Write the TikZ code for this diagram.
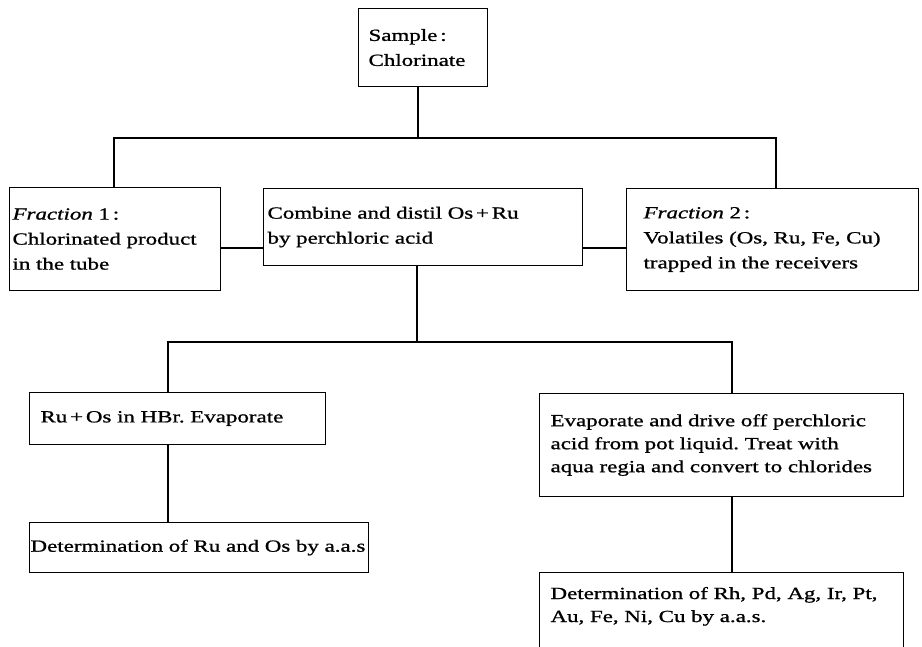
\documentclass[tikz,border=0pt]{standalone}
\usepackage{fontspec}
\setmainfont{Liberation Serif}[FakeStretch=1.35, FakeBold=1]
\usepackage{tikz}
\usetikzlibrary{positioning, calc}
\frenchspacing

\begin{document}
\begin{tikzpicture}[
    x=1pt, y=-1pt,
    box/.style={draw, line width=1.1pt, anchor=north west, align=left, inner ysep=0pt,
        font=\fontsize{17}{25}\selectfont},
    link/.style={line width=1.1pt}
]
\useasboundingbox (0,0) rectangle (922,646);

% Top level
\node[box, inner xsep=10pt, text width=109pt, minimum height=78pt] (sample) at (358,8) {Sample\,:\\Chlorinate};

% Fractions and distillation
\node[box, inner xsep=3pt, text width=205pt, minimum height=103pt] (frac1) at (9,187)
    {\textit{Fraction} 1\,:\\Chlorinated product\\in the tube};
\node[box, inner xsep=4pt, text width=311pt, minimum height=77pt] (distil) at (263,188)
    {Combine and distil Os\,+\,Ru\\by perchloric acid};
\node[box, inner xsep=17pt, text width=258pt, minimum height=102pt] (frac2) at (626,188)
    {\textit{Fraction} 2\,:\\Volatiles (Os, Ru, Fe, Cu)\\trapped in the receivers};

% Left branch
\node[box, inner xsep=11pt, text width=274pt, minimum height=52pt] (ruos) at (29,392)
    {Ru\,+\,Os in HBr. Evaporate};
\node[box, inner xsep=1pt, text width=337pt, minimum height=50pt] (detruos) at (29,522)
    {Determination of Ru and Os by a.a.s};

% Right branch
\node[box, inner xsep=11pt, text width=342pt, minimum height=103pt,
    font=\fontsize{17}{23}\selectfont] (evap) at (539,393)
    {Evaporate and drive off perchloric\\acid from pot liquid. Treat with\\aqua regia and convert to chlorides};
\node[box, inner xsep=11pt, text width=342pt, inner ysep=14.5pt, text depth=60pt,
    font=\fontsize{17}{23}\selectfont] (detrest) at (539,572)
    {Determination of Rh, Pd, Ag, Ir, Pt,\\Au, Fe, Ni, Cu by a.a.s.};

% Junction points
\coordinate (j1) at (418,138);
\coordinate (j1l) at (114,138);
\coordinate (j1r) at (776,138);
\coordinate (h1) at (0,248);
\coordinate (j2) at (417,342);
\coordinate (j2l) at (168,342);
\coordinate (j2r) at (732,342);

% Connectors
\draw[link] (sample.south -| j1) -- (j1);
\draw[link] (frac1.north -| j1l) -- (j1l) -- (j1r) -- (frac2.north -| j1r);
\draw[link] (frac1.east |- h1) -- (distil.west |- h1);
\draw[link] (distil.east |- h1) -- (frac2.west |- h1);

\draw[link] (distil.south -| j2) -- (j2);
\draw[link] (ruos.north -| j2l) -- (j2l) -- (j2r) -- (evap.north -| j2r);
\draw[link] (ruos.south -| j2l) -- (detruos.north -| j2l);
\draw[link] (evap.south -| j2r) -- (detrest.north -| j2r);

\end{tikzpicture}
\end{document}
